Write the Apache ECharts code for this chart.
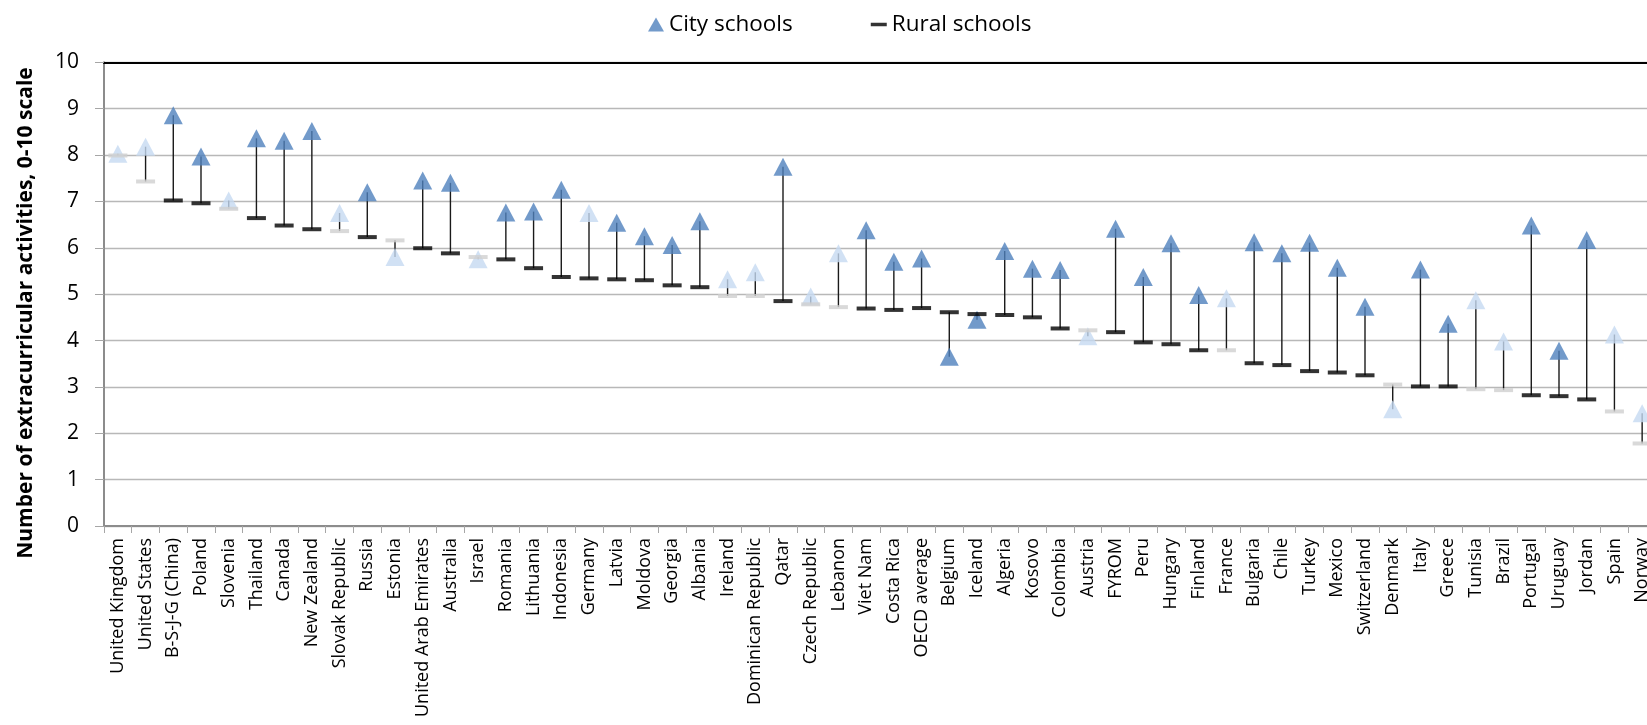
<!DOCTYPE html>
<html>
<head>
<meta charset="utf-8">
<script src="https://cdn.jsdelivr.net/npm/echarts@6/dist/echarts.min.js"></script>
<style>html,body{margin:0;padding:0;background:#fff;}#c{width:1647px;height:725px;}</style>
</head>
<body>
<div id="c"></div>
<script>
const categories = ["United Kingdom","United States","B-S-J-G (China)","Poland","Slovenia","Thailand","Canada","New Zealand","Slovak Republic","Russia","Estonia","United Arab Emirates","Australia","Israel","Romania","Lithuania","Indonesia","Germany","Latvia","Moldova","Georgia","Albania","Ireland","Dominican Republic","Qatar","Czech Republic","Lebanon","Viet Nam","Costa Rica","OECD average","Belgium","Iceland","Algeria","Kosovo","Colombia","Austria","FYROM","Peru","Hungary","Finland","France","Bulgaria","Chile","Turkey","Mexico","Switzerland","Denmark","Italy","Greece","Tunisia","Brazil","Portugal","Uruguay","Jordan","Spain","Norway"];
const cityValues = [8.03,8.18,8.86,7.97,7.02,8.36,8.31,8.52,6.75,7.20,5.80,7.45,7.40,5.75,6.76,6.78,7.25,6.75,6.54,6.25,6.06,6.57,5.32,5.47,7.75,4.95,5.88,6.38,5.70,5.77,3.65,4.45,5.93,5.55,5.52,4.09,6.41,5.37,6.10,4.98,4.91,6.12,5.88,6.11,5.57,4.73,2.52,5.53,4.36,4.87,3.98,6.48,3.78,6.17,4.13,2.43];
const ruralValues = [7.99,7.43,7.02,6.96,6.84,6.64,6.48,6.40,6.36,6.23,6.16,5.99,5.88,5.80,5.75,5.56,5.37,5.34,5.32,5.30,5.19,5.15,4.96,4.96,4.85,4.78,4.72,4.69,4.66,4.70,4.61,4.57,4.55,4.50,4.26,4.22,4.18,3.96,3.92,3.79,3.79,3.51,3.47,3.34,3.31,3.25,3.05,3.01,3.01,2.95,2.93,2.82,2.80,2.73,2.47,1.78];
// countries whose markers are drawn in the pale shade
const cityLight = ["United Kingdom","United States","Slovenia","Slovak Republic","Estonia","Israel","Germany","Ireland","Dominican Republic","Czech Republic","Lebanon","Austria","France","Denmark","Tunisia","Brazil","Spain","Norway"];
const ruralLight = ["United Kingdom","United States","Slovenia","Slovak Republic","Estonia","Israel","Ireland","Dominican Republic","Czech Republic","Lebanon","Austria","France","Denmark","Tunisia","Brazil","Spain","Norway"];
const yTicks = [0,1,2,3,4,5,6,7,8,9,10];

const DARK_BLUE = '#4F81BD', LIGHT_BLUE = '#C6D9F1', BLACK = '#000000', GREY = '#D0D0D0';
const FONT = '"Open Sans", "Noto Sans", sans-serif';

const cityData = categories.map((c, i) => ({
  value: cityValues[i],
  itemStyle: { color: cityLight.includes(c) ? LIGHT_BLUE : DARK_BLUE }
}));
const ruralData = categories.map((c, i) => ({
  value: ruralValues[i],
  itemStyle: { color: ruralLight.includes(c) ? GREY : BLACK }
}));
const linkData = categories.map((c, i) => [i, cityValues[i], ruralValues[i]]);

const chart = echarts.init(document.getElementById('c'), null, { renderer: 'canvas' });
chart.setOption({
  animation: false,
  backgroundColor: '#ffffff',
  textStyle: { fontFamily: FONT },
  legend: {
    top: 8,
    left: 643,
    itemGap: 78,
    itemWidth: 16,
    itemHeight: 14,
    textStyle: { fontSize: 22.5, color: '#000', fontFamily: FONT },
    data: [
      { name: 'City schools', icon: 'triangle', itemStyle: { color: DARK_BLUE } },
      { name: 'Rural schools', icon: 'path://M0,0h16v3.5h-16z', itemStyle: { color: BLACK } }
    ]
  },
  graphic: [{
    type: 'text',
    x: 26, y: 313,
    rotation: Math.PI / 2,
    style: {
      text: 'Number of extracurricular activities, 0-10 scale',
      font: 'bold 21px ' + FONT,
      fill: '#000',
      align: 'center',
      verticalAlign: 'middle'
    }
  }],
  grid: { left: 104, top: 62.3, width: 1552, bottom: 199, containLabel: false, outerBoundsMode: 'none' },
  xAxis: [{
    type: 'category',
    data: categories,
    boundaryGap: true,
    axisLine: { lineStyle: { color: '#8C8C8C', width: 2 } },
    axisTick: { show: true, length: 7, interval: 0, lineStyle: { color: '#A6A6A6', width: 1 } },
    axisLabel: { interval: 0, rotate: 90, fontSize: 18, color: '#000', margin: 12, fontFamily: FONT },
    splitLine: { show: false }
  }, {
    type: 'category',
    data: categories,
    position: 'top',
    axisLine: { lineStyle: { color: '#000', width: 2.2 } },
    axisTick: { show: false },
    axisLabel: { show: false }
  }],
  yAxis: {
    type: 'value',
    min: yTicks[0],
    max: yTicks[yTicks.length - 1],
    interval: 1,
    axisLine: { show: true, lineStyle: { color: '#8C8C8C', width: 2 } },
    axisTick: { show: true, length: 9, lineStyle: { color: '#A6A6A6', width: 1 } },
    axisLabel: { fontSize: 21, color: '#000', margin: 25, fontFamily: FONT },
    splitLine: { show: true, lineStyle: { color: '#B8B8B8', width: 1.3 } }
  },
  series: [
    {
      name: 'links',
      type: 'custom',
      z: 1,
      silent: true,
      renderItem: function (params, api) {
        const p1 = api.coord([api.value(0), api.value(1)]);
        const p2 = api.coord([api.value(0), api.value(2)]);
        return {
          type: 'line',
          shape: { x1: p1[0], y1: p1[1], x2: p2[0], y2: p2[1] },
          style: { stroke: '#1A1A1A', lineWidth: 1.4 }
        };
      },
      encode: { x: 0, y: [1, 2] },
      data: linkData
    },
    {
      name: 'City schools',
      type: 'scatter',
      z: 3,
      symbol: 'triangle',
      symbolSize: [19, 18],
      itemStyle: { color: DARK_BLUE },
      data: cityData
    },
    {
      name: 'Rural schools',
      type: 'scatter',
      z: 4,
      symbol: 'rect',
      symbolSize: [19, 4],
      itemStyle: { color: BLACK },
      data: ruralData
    }
  ]
});
</script>
</body>
</html>
